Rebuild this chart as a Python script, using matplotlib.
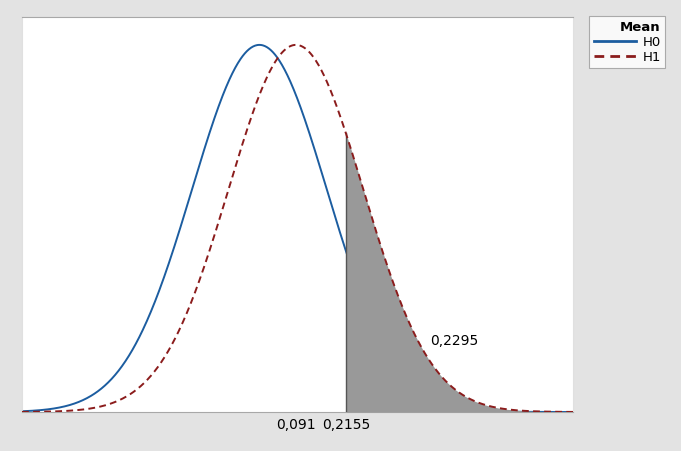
import numpy as np
import matplotlib.pyplot as plt

# distribution parameters
means = [0.0, 0.091]
labels = ["H0", "H1"]
sigma = 0.168
crit = 0.2155
power = 0.2295
tick_vals = [0.091, 0.2155]
tick_labels = ["0,091", "0,2155"]

bg = "#e3e3e3"
fig = plt.figure(figsize=(6.81, 4.51), dpi=100, facecolor=bg)
ax = fig.add_axes([22 / 681, 39 / 451, 551 / 681, 395 / 451])

x = np.linspace(-0.592, 0.782, 800)


def pdf(v, m):
    return np.exp(-0.5 * ((v - m) / sigma) ** 2) / (sigma * np.sqrt(2 * np.pi))


y0 = pdf(x, means[0])
y1 = pdf(x, means[1])

ax.plot(x, y0, color="#1c5da0", lw=1.4, label=labels[0], zorder=2)

xs = x[x >= crit]
xs = np.concatenate([[crit], xs])
ax.fill_between(xs, 0, pdf(xs, means[1]), color="#999999", lw=0, zorder=3)
ax.plot([crit, crit], [0, pdf(crit, means[1])], color="#555555", lw=1, zorder=3)

ax.plot(x, y1, color="#8b1c1c", lw=1.4, ls=(0, (3.5, 2.2)), label=labels[1], zorder=4)

ax.text(0.4255, 0.46, f"{power:.4f}".replace(".", ","), fontsize=10, ha="left", va="center")

ax.set_xlim(x[0], x[-1])
ax.set_ylim(0, 2.555)
ax.set_yticks([])
ax.set_xticks(tick_vals)
ax.set_xticklabels(tick_labels, fontsize=10)
ax.tick_params(axis="x", length=0, pad=4)
for s in ax.spines.values():
    s.set_color("#a8a8a8")
ax.spines["left"].set_color("#e0e0e0")
ax.spines["right"].set_color("#e0e0e0")

leg = fig.legend(loc="upper left", bbox_to_anchor=(589 / 681, 1 - 16 / 451), title="Mean",
                 alignment="right", fontsize=9.5, title_fontproperties={"weight": "bold", "size": 9.5},
                 fancybox=False, edgecolor="#999999", handlelength=3.2, borderpad=0.35,
                 borderaxespad=0, labelspacing=0.15, handletextpad=0.5)
leg.get_frame().set_linewidth(0.8)
for h in leg.legend_handles:
    h.set_linewidth(2)

fig.savefig("out.png", dpi=100, facecolor=bg)
